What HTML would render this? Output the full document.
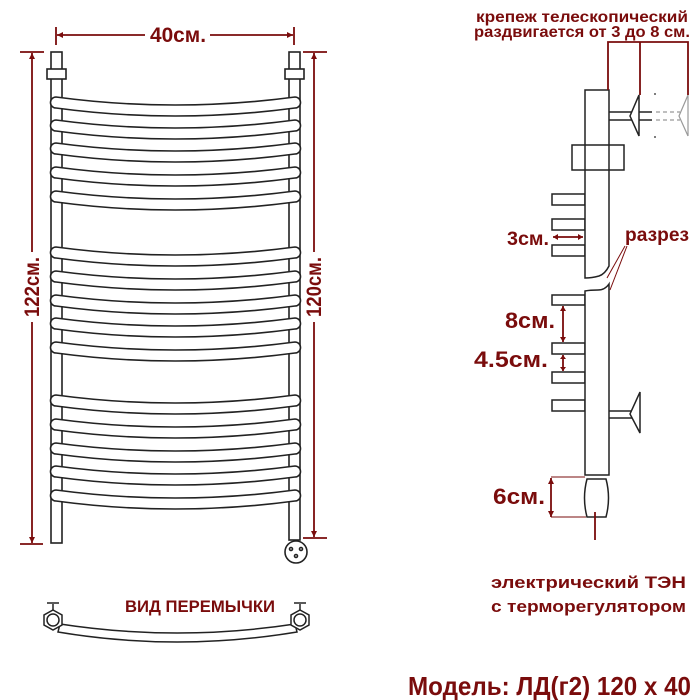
<!DOCTYPE html>
<html><head><meta charset="utf-8"><style>
html,body{margin:0;padding:0;background:#fff;}
svg{display:block;}
text{font-family:"Liberation Sans",sans-serif;font-weight:bold;fill:#7a0c0c;}
</style></head><body>
<svg width="700" height="700" viewBox="0 0 700 700" xmlns="http://www.w3.org/2000/svg">
<g fill="none" stroke="#222" stroke-width="1.6">
 <rect x="51" y="52" width="11" height="491" fill="#fff"/>
 <rect x="289" y="52" width="11" height="488" fill="#fff"/>
 <rect x="47" y="69" width="19" height="10" fill="#fff"/>
 <rect x="285" y="69" width="19" height="10" fill="#fff"/>
 <circle cx="296" cy="552" r="11" fill="#fff"/>
 <circle cx="291" cy="549" r="1.5"/><circle cx="301" cy="549" r="1.5"/><circle cx="296" cy="556" r="1.5"/>
</g>
<g fill="#fff" stroke="#222" stroke-width="1.6">
 <path id="b" d="M56,0 Q175,16 295,0 A5.5,5.5 0 0 1 295,11 Q175,27 56,11 A5.5,5.5 0 0 1 56,0 Z" transform="translate(0,97)"/>
 <use href="#b" y="23"/><use href="#b" y="46"/><use href="#b" y="70"/><use href="#b" y="94"/>
 <use href="#b" y="150"/><use href="#b" y="174"/><use href="#b" y="198"/><use href="#b" y="221"/><use href="#b" y="245"/>
 <use href="#b" y="298"/><use href="#b" y="322"/><use href="#b" y="346"/><use href="#b" y="369"/><use href="#b" y="393"/>
</g>
<g stroke="#7a0c0c" stroke-width="1.8" fill="#7a0c0c">
 <line x1="56" y1="27" x2="56" y2="45"/><line x1="294" y1="27" x2="294" y2="45"/>
 <line x1="57" y1="35" x2="145" y2="35"/><line x1="210" y1="35" x2="293" y2="35"/>
 <path d="M57,35 l6,-3 v6z M293,35 l-6,-3 v6z" stroke="none"/>
 <line x1="20" y1="52" x2="44" y2="52"/><line x1="20" y1="544" x2="43" y2="544"/>
 <line x1="32" y1="53" x2="32" y2="252"/><line x1="32" y1="322" x2="32" y2="543"/>
 <path d="M32,53 l-3,6 h6z M32,543 l-3,-6 h6z" stroke="none"/>
 <line x1="303" y1="52" x2="327" y2="52"/><line x1="303" y1="538" x2="327" y2="538"/>
 <line x1="314" y1="53" x2="314" y2="252"/><line x1="314" y1="322" x2="314" y2="537"/>
 <path d="M314,53 l-3,6 h6z M314,537 l-3,-6 h6z" stroke="none"/>
</g>
<text x="178" y="42" font-size="21" text-anchor="middle" textLength="56" lengthAdjust="spacingAndGlyphs">40см.</text>
<text transform="translate(39,287) rotate(-90)" font-size="21" text-anchor="middle" textLength="60" lengthAdjust="spacingAndGlyphs">122см.</text>
<text transform="translate(321,287) rotate(-90)" font-size="21" text-anchor="middle" textLength="60" lengthAdjust="spacingAndGlyphs">120см.</text>
<g fill="#fff" stroke="#222" stroke-width="1.5">
 <path d="M60,624 Q177,642 295,624 L297,632 Q177,652 58,632 Z"/>
 <polygon points="53,610 62,615 62,625 53,630 44,625 44,615"/>
 <circle cx="53" cy="620" r="6"/>
 <line x1="53" y1="604" x2="53" y2="610"/><line x1="47" y1="603" x2="59" y2="603"/>
 <polygon points="300,610 309,615 309,625 300,630 291,625 291,615"/>
 <circle cx="300" cy="620" r="6"/>
 <line x1="300" y1="604" x2="300" y2="610"/><line x1="294" y1="603" x2="306" y2="603"/>
</g>
<text x="125" y="612" font-size="17" textLength="150" lengthAdjust="spacingAndGlyphs">ВИД ПЕРЕМЫЧКИ</text>
<g fill="#fff" stroke="#222" stroke-width="1.5">
 <rect x="552" y="194" width="33" height="11"/><rect x="552" y="219" width="33" height="11"/><rect x="552" y="245" width="33" height="11"/>
 <rect x="552" y="295" width="33" height="10"/><rect x="552" y="343" width="33" height="11"/><rect x="552" y="372" width="33" height="11"/><rect x="552" y="400" width="33" height="11"/>
 <path d="M585,90 H609 V266 Q605,274 599,276 Q592,278 585,278 Z"/>
 <path d="M585,475 H609 V284 Q605,290 598,290 Q590,290 585,291 Z"/>
 <rect x="572" y="145" width="52" height="25"/>
 <line x1="585" y1="145" x2="585" y2="170"/><line x1="609" y1="145" x2="609" y2="170"/>
 <line x1="609" y1="112" x2="652" y2="112"/><line x1="609" y1="120" x2="652" y2="120"/>
 <path d="M639,95 L630,116 L639,136 Z"/>
 <line x1="609" y1="411" x2="632" y2="411"/><line x1="609" y1="418" x2="632" y2="418"/>
 <path d="M640,392 L630,414 L640,433 Z"/>
 <path d="M587,479 H606 Q611,498 606,517 H587 Q582,498 587,479 Z"/>
</g>
<g stroke="#999" stroke-width="1.2" fill="none">
 <line x1="656" y1="112" x2="680" y2="112" stroke-dasharray="4,3"/><line x1="656" y1="120" x2="680" y2="120" stroke-dasharray="4,3"/>
 <path d="M688,95 L679,116 L688,136"/><line x1="688" y1="95" x2="688" y2="136"/>
</g>
<circle cx="655" cy="94" r="0.9" fill="#222"/><circle cx="655" cy="137" r="0.9" fill="#222"/>
<line x1="595" y1="512" x2="595" y2="540" stroke="#7a0c0c" stroke-width="1.8"/>
<g stroke="#7a0c0c" stroke-width="1.8" fill="#7a0c0c">
 <polyline points="608,90 608,42 688,42 688,95" fill="none"/>
 <line x1="640" y1="42" x2="640" y2="95"/>
 <line x1="553" y1="237" x2="583" y2="237"/><path d="M553,237 l5,-3 v6z M583,237 l-5,-3 v6z" stroke="none"/>
 <line x1="563" y1="306" x2="563" y2="342"/><path d="M563,306 l-3,5 h6z M563,342 l-3,-5 h6z" stroke="none"/>
 <line x1="563" y1="355" x2="563" y2="371"/><path d="M563,355 l-3,4 h6z M563,371 l-3,-4 h6z" stroke="none"/>
 <line x1="551" y1="478" x2="551" y2="517"/><path d="M551,478 l-3,6 h6z M551,517 l-3,-6 h6z" stroke="none"/>
 <line x1="551" y1="477" x2="585" y2="477" stroke-width="1"/><line x1="551" y1="517" x2="586" y2="517" stroke-width="1"/>
 <line x1="625" y1="246" x2="607" y2="278" stroke-width="1"/><line x1="627" y1="246" x2="610" y2="290" stroke-width="1"/>
</g>
<text x="476" y="22" font-size="16" textLength="212" lengthAdjust="spacingAndGlyphs">крепеж телескопический</text>
<text x="474" y="37" font-size="16" textLength="216" lengthAdjust="spacingAndGlyphs">раздвигается от 3 до 8 см.</text>
<text x="507" y="245" font-size="19" textLength="42" lengthAdjust="spacingAndGlyphs">3см.</text>
<text x="625" y="241" font-size="19" textLength="64" lengthAdjust="spacingAndGlyphs">разрез</text>
<text x="505" y="328" font-size="22" textLength="50" lengthAdjust="spacingAndGlyphs">8см.</text>
<text x="474" y="367" font-size="22" textLength="74" lengthAdjust="spacingAndGlyphs">4.5см.</text>
<text x="493" y="504" font-size="22" textLength="52" lengthAdjust="spacingAndGlyphs">6см.</text>
<text x="491" y="588" font-size="17" textLength="195" lengthAdjust="spacingAndGlyphs">электрический   ТЭН</text>
<text x="491" y="612" font-size="17" textLength="195" lengthAdjust="spacingAndGlyphs">с терморегулятором</text>
<text x="408" y="695" font-size="26" textLength="283" lengthAdjust="spacingAndGlyphs">Модель: ЛД(г2) 120 x 40</text>
</svg>
</body></html>
